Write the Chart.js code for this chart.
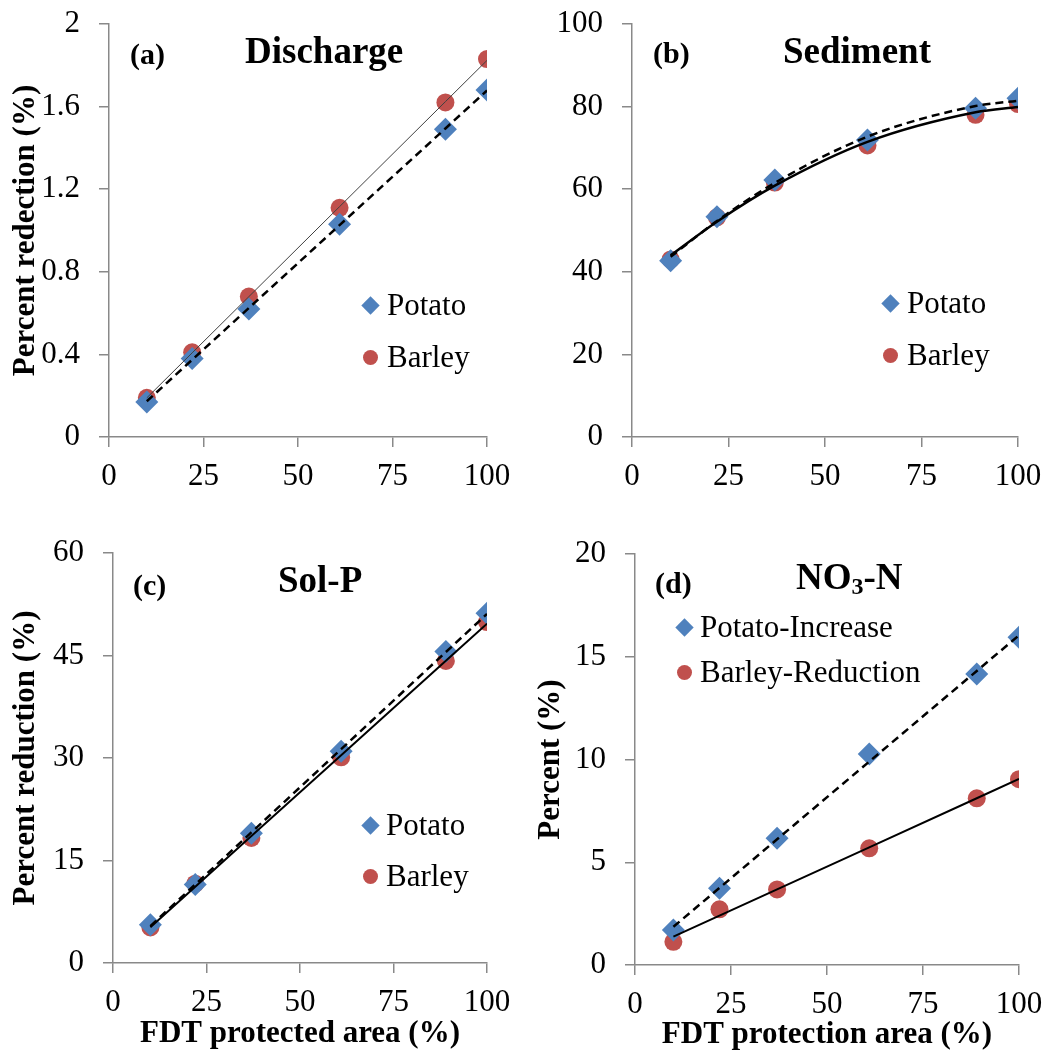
<!DOCTYPE html>
<html>
<head>
<meta charset="utf-8">
<script src="https://cdn.jsdelivr.net/npm/chart.js@4.4.1/dist/chart.umd.min.js"></script>
<style>
body { margin: 0; background: #fff; width: 1051px; height: 1064px; position: relative; overflow: hidden; font-family: "Liberation Serif", "Times New Roman", serif; color: #000; }
.panel { position: absolute; }
.panel canvas { display: block; }
.txt { position: absolute; white-space: nowrap; line-height: 1; }
.tag { font-size: 30px; font-weight: bold; }
.ttl { font-size: 37px; font-weight: bold; }
.ttl sub { font-size: 24px; vertical-align: -5px; line-height: 0; }
.leg { font-size: 31px; }
.dia { position: absolute; width: 13px; height: 13px; background: #4F81BD; transform: rotate(45deg); }
.dot { position: absolute; width: 15px; height: 15px; border-radius: 50%; background: #C0504D; }
</style>
</head>
<body>

<div class="panel" style="left:0;top:0"><canvas id="chart-a" width="525" height="520"></canvas></div>
<div class="panel" style="left:525px;top:0"><canvas id="chart-b" width="526" height="520"></canvas></div>
<div class="panel" style="left:0;top:530px"><canvas id="chart-c" width="525" height="534"></canvas></div>
<div class="panel" style="left:525px;top:530px"><canvas id="chart-d" width="526" height="534"></canvas></div>

<!-- panel labels and titles -->
<div class="txt tag" style="left:130px;top:39px">(a)</div>
<div class="txt ttl" style="left:245px;top:32px">Discharge</div>
<div class="txt tag" style="left:653px;top:38px">(b)</div>
<div class="txt ttl" style="left:783px;top:32px">Sediment</div>
<div class="txt tag" style="left:133px;top:570px">(c)</div>
<div class="txt ttl" style="left:278px;top:561px">Sol-P</div>
<div class="txt tag" style="left:655px;top:568px">(d)</div>
<div class="txt ttl" style="left:796px;top:558px">NO<sub>3</sub>-N</div>

<!-- legends -->
<div class="dia" style="left:364px;top:299px"></div>
<div class="txt leg" style="left:387px;top:289px">Potato</div>
<div class="dot" style="left:363px;top:350px"></div>
<div class="txt leg" style="left:387px;top:341px">Barley</div>

<div class="dia" style="left:884px;top:297px"></div>
<div class="txt leg" style="left:907px;top:287px">Potato</div>
<div class="dot" style="left:883px;top:348px"></div>
<div class="txt leg" style="left:907px;top:339px">Barley</div>

<div class="dia" style="left:364px;top:819px"></div>
<div class="txt leg" style="left:386px;top:809px">Potato</div>
<div class="dot" style="left:363px;top:869px"></div>
<div class="txt leg" style="left:386px;top:860px">Barley</div>

<div class="dia" style="left:678px;top:621px"></div>
<div class="txt leg" style="left:700px;top:611px">Potato-Increase</div>
<div class="dot" style="left:677px;top:665px"></div>
<div class="txt leg" style="left:700px;top:656px">Barley-Reduction</div>

<script>
const protectedArea = [10, 22, 37, 61, 89, 100];
const xTicks = [0, 25, 50, 75, 100];

const dischargePotato = [0.17, 0.38, 0.62, 1.03, 1.49, 1.68];
const dischargeBarley = [0.19, 0.41, 0.68, 1.11, 1.62, 1.83];

const sedimentPotato = [42.7, 53.3, 62.2, 71.9, 79.6, 82.0];
const sedimentBarley = [43.0, 53.2, 61.6, 70.6, 78.0, 80.6];

const solPPotato = [5.6, 11.5, 19.0, 31.0, 45.6, 51.2];
const solPBarley = [5.2, 11.6, 18.3, 30.1, 44.2, 49.9];

const nitratePotato = [1.70, 3.73, 6.17, 10.27, 14.16, 15.95];
const nitrateBarley = [1.13, 2.71, 3.68, 5.68, 8.11, 9.04];

const potatoColor = '#4F81BD';
const barleyColor = '#C0504D';
const axisColor = '#898989';
const serif = '"Liberation Serif", "Times New Roman", serif';

// least squares trendlines, like the spreadsheet ones
function linearFit(xs, ys) {
    const n = xs.length;
    const mx = xs.reduce((a, b) => a + b, 0) / n;
    const my = ys.reduce((a, b) => a + b, 0) / n;
    let sxy = 0, sxx = 0;
    xs.forEach((x, i) => {
        sxy += (x - mx) * (ys[i] - my);
        sxx += (x - mx) * (x - mx);
    });
    const slope = sxy / sxx;
    return xs.map(x => my + slope * (x - mx));
}

function quadFit(xs, ys) {
    const s = k => xs.reduce((t, x) => t + Math.pow(x, k), 0);
    const t = k => xs.reduce((acc, x, i) => acc + ys[i] * Math.pow(x, k), 0);
    const m = [
        [s(0), s(1), s(2), t(0)],
        [s(1), s(2), s(3), t(1)],
        [s(2), s(3), s(4), t(2)]
    ];
    for (let i = 0; i < 3; i++) {
        for (let j = i + 1; j < 3; j++) {
            const f = m[j][i] / m[i][i];
            for (let k = i; k < 4; k++) m[j][k] -= f * m[i][k];
        }
    }
    const c = [0, 0, 0];
    for (let i = 2; i >= 0; i--) {
        let v = m[i][3];
        for (let k = i + 1; k < 3; k++) v -= m[i][k] * c[k];
        c[i] = v / m[i][i];
    }
    return xs.map(x => c[0] + c[1] * x + c[2] * x * x);
}

function toPoints(xs, ys) {
    return xs.map((x, i) => ({ x: x, y: ys[i] }));
}

function makePanel(id, cfg) {
    const fit = cfg.curved ? quadFit : linearFit;
    return new Chart(document.getElementById(id), {
        type: 'scatter',
        data: {
            datasets: [
                {
                    label: 'Potato trend',
                    data: toPoints(protectedArea, fit(protectedArea, cfg.potato)),
                    showLine: true,
                    borderColor: '#000',
                    borderWidth: 2.5,
                    borderDash: [8, 5],
                    pointRadius: 0,
                    cubicInterpolationMode: cfg.curved ? 'monotone' : 'default',
                    fill: false
                },
                {
                    label: 'Barley trend',
                    data: toPoints(protectedArea, fit(protectedArea, cfg.barley)),
                    showLine: true,
                    borderColor: cfg.barleyLineColor,
                    borderWidth: cfg.barleyLineWidth,
                    pointRadius: 0,
                    cubicInterpolationMode: cfg.curved ? 'monotone' : 'default',
                    fill: false
                },
                {
                    label: cfg.potatoLabel,
                    data: toPoints(protectedArea, cfg.potato),
                    pointStyle: 'rectRot',
                    pointRadius: 11.5,
                    backgroundColor: potatoColor,
                    borderColor: potatoColor,
                    borderWidth: 0
                },
                {
                    label: cfg.barleyLabel,
                    data: toPoints(protectedArea, cfg.barley),
                    pointStyle: 'circle',
                    pointRadius: 9,
                    backgroundColor: barleyColor,
                    borderColor: barleyColor,
                    borderWidth: 0
                }
            ]
        },
        options: {
            responsive: false,
            animation: false,
            layout: { padding: cfg.padding },
            plugins: {
                legend: { display: false },
                tooltip: { enabled: false }
            },
            scales: {
                x: {
                    type: 'linear',
                    min: 0,
                    max: 100,
                    afterBuildTicks: scale => { scale.ticks = xTicks.map(v => ({ value: v })); },
                    ticks: { color: '#000', font: { family: serif, size: 31 }, padding: 11 },
                    grid: { drawOnChartArea: false, tickLength: 10, color: axisColor, lineWidth: 1.5 },
                    border: { color: axisColor, width: 1.5 },
                    title: {
                        display: !!cfg.xTitle,
                        text: cfg.xTitle || '',
                        color: '#000',
                        font: { family: serif, size: 31, weight: 'bold' },
                        padding: { top: 0, bottom: cfg.xTitlePad || 0 }
                    },
                    afterFit: scale => {
                        scale.height = cfg.xHeight;
                        scale.paddingLeft = 0;
                        scale.paddingRight = 0;
                    }
                },
                y: {
                    min: 0,
                    max: cfg.yMax,
                    ticks: {
                        stepSize: cfg.yStep,
                        color: '#000',
                        font: { family: serif, size: 31 },
                        padding: 19,
                        callback: value => String(Number(value.toFixed(1)))
                    },
                    grid: { drawOnChartArea: false, tickLength: 10, color: axisColor, lineWidth: 1.5 },
                    border: { color: axisColor, width: 1.5 },
                    title: {
                        display: !!cfg.yTitle,
                        text: cfg.yTitle || '',
                        color: '#000',
                        font: { family: serif, size: 31, weight: 'bold' },
                        padding: { top: 7, bottom: 0 }
                    },
                    afterFit: scale => {
                        scale.width = cfg.yWidth;
                        scale.paddingTop = 0;
                        scale.paddingBottom = 0;
                    }
                }
            }
        }
    });
}

makePanel('chart-a', {
    potato: dischargePotato,
    barley: dischargeBarley,
    potatoLabel: 'Potato',
    barleyLabel: 'Barley',
    curved: false,
    barleyLineColor: '#404040',
    barleyLineWidth: 1,
    yMax: 2,
    yStep: 0.4,
    yTitle: 'Percent redection (%)',
    yWidth: 109,
    xHeight: 83,
    padding: { left: 0, top: 24, right: 38, bottom: 0 }
});

makePanel('chart-b', {
    potato: sedimentPotato,
    barley: sedimentBarley,
    potatoLabel: 'Potato',
    barleyLabel: 'Barley',
    curved: true,
    barleyLineColor: '#000',
    barleyLineWidth: 2.5,
    yMax: 100,
    yStep: 20,
    yWidth: 107,
    xHeight: 83,
    padding: { left: 0, top: 24, right: 33, bottom: 0 }
});

makePanel('chart-c', {
    potato: solPPotato,
    barley: solPBarley,
    potatoLabel: 'Potato',
    barleyLabel: 'Barley',
    curved: false,
    barleyLineColor: '#000',
    barleyLineWidth: 2,
    yMax: 60,
    yStep: 15,
    yTitle: 'Percent reduction (%)',
    xTitle: 'FDT protected area (%)',
    xTitlePad: 11,
    yWidth: 113,
    xHeight: 101,
    padding: { left: 0, top: 23, right: 38, bottom: 0 }
});

makePanel('chart-d', {
    potato: nitratePotato,
    barley: nitrateBarley,
    potatoLabel: 'Potato-Increase',
    barleyLabel: 'Barley-Reduction',
    curved: false,
    barleyLineColor: '#000',
    barleyLineWidth: 2,
    yMax: 20,
    yStep: 5,
    yTitle: 'Percent (%)',
    xTitle: 'FDT protection area (%)',
    xTitlePad: 10,
    yWidth: 110,
    xHeight: 99,
    padding: { left: 0, top: 24, right: 32, bottom: 0 }
});
</script>
</body>
</html>
